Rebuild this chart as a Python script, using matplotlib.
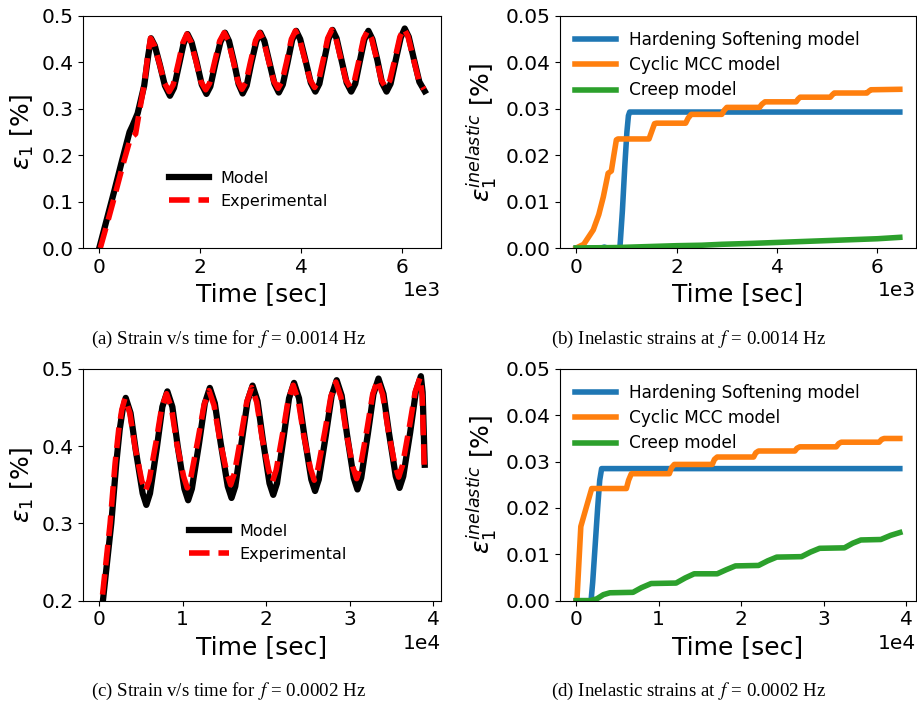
import matplotlib
matplotlib.use("Agg")
import matplotlib.pyplot as plt

# --- (a) strain vs time, f = 0.0014 Hz ---
t_a_model = [0, 150, 300, 450, 600, 660, 760, 890, 970, 1025, 1100, 1200, 1300, 1400,
             1480, 1580, 1670, 1748, 1830, 1930, 2030, 2123, 2200, 2300, 2400, 2490,
             2570, 2670, 2760, 2840, 2920, 3010, 3110, 3190, 3270, 3370, 3470, 3556,
             3635, 3730, 3820, 3900, 3980, 4090, 4190, 4280, 4360, 4450, 4540, 4620,
             4700, 4800, 4900, 4990, 5070, 5160, 5250, 5330, 5410, 5510, 5600, 5690,
             5770, 5870, 5970, 6050, 6130, 6230, 6340, 6446]
e_a_model = [0.000, 0.062, 0.124, 0.188, 0.250, 0.264, 0.290, 0.350, 0.415, 0.452, 0.436, 0.395, 0.350, 0.328,
             0.345, 0.395, 0.440, 0.461, 0.443, 0.400, 0.352, 0.332, 0.348, 0.398, 0.444, 0.464,
             0.446, 0.400, 0.353, 0.333, 0.350, 0.398, 0.445, 0.464, 0.446, 0.400, 0.354, 0.335,
             0.352, 0.400, 0.448, 0.468, 0.450, 0.402, 0.356, 0.337, 0.354, 0.402, 0.450, 0.470,
             0.452, 0.404, 0.356, 0.337, 0.354, 0.402, 0.449, 0.468, 0.450, 0.404, 0.356, 0.337,
             0.354, 0.404, 0.453, 0.473, 0.455, 0.408, 0.358, 0.338]

t_a_exp = [20, 170, 320, 470, 610, 660, 720, 780, 890, 965, 1015, 1090, 1190, 1290, 1385,
           1465, 1565, 1655, 1735, 1815, 1915, 2015, 2108, 2185, 2285, 2385, 2475,
           2555, 2655, 2745, 2825, 2905, 2995, 3095, 3175, 3255, 3355, 3455, 3541,
           3620, 3715, 3805, 3885, 3965, 4075, 4175, 4265, 4345, 4435, 4525, 4605,
           4685, 4785, 4885, 4975, 5055, 5145, 5235, 5315, 5395, 5495, 5585, 5675,
           5755, 5855, 5955, 6035, 6115, 6215, 6325, 6430]
e_a_exp = [0.000, 0.058, 0.118, 0.180, 0.234, 0.240, 0.246, 0.285, 0.352, 0.418, 0.452, 0.437, 0.398, 0.356, 0.337,
           0.352, 0.398, 0.442, 0.461, 0.444, 0.403, 0.358, 0.341, 0.355, 0.401, 0.446, 0.464,
           0.447, 0.403, 0.359, 0.342, 0.357, 0.401, 0.447, 0.464, 0.447, 0.403, 0.360, 0.344,
           0.359, 0.403, 0.450, 0.468, 0.451, 0.405, 0.362, 0.346, 0.361, 0.405, 0.452, 0.470,
           0.453, 0.407, 0.362, 0.346, 0.361, 0.405, 0.451, 0.468, 0.451, 0.407, 0.362, 0.346,
           0.361, 0.407, 0.455, 0.473, 0.456, 0.411, 0.363, 0.342]

# --- (b) inelastic strains, f = 0.0014 Hz ---
t_b_hs = [0, 500, 560, 620, 870, 920, 970, 1010, 1040, 1065, 6445]
e_b_hs = [0, 0, 0.0002, 0, 0, 0.008, 0.018, 0.025, 0.0285, 0.0293, 0.0293]

t_b_mcc = [0, 150, 340, 450, 540, 636, 700, 750, 800, 830, 1450, 1500, 1560, 1600,
           2180, 2230, 2290, 2900, 2950, 3000, 3650, 3700, 3760, 4380, 4420, 4460,
           5060, 5100, 5140, 5790, 5830, 5870, 6445]
e_b_mcc = [0, 0.0008, 0.0039, 0.0072, 0.0110, 0.0161, 0.0166, 0.0200, 0.0233, 0.0235, 0.0235, 0.0250, 0.0268, 0.0269,
           0.0269, 0.0280, 0.0288, 0.0288, 0.0297, 0.0303, 0.0303, 0.0310, 0.0315, 0.0315, 0.0321, 0.0325,
           0.0325, 0.0330, 0.0334, 0.0334, 0.0338, 0.0341, 0.0342]

t_b_creep = [0, 800, 1400, 2000, 2500, 2900, 3500, 4000, 4500, 5000, 5500, 6000, 6445]
e_b_creep = [0, 0.0001, 0.0003, 0.0005, 0.0006, 0.0008, 0.0010, 0.0012, 0.0014, 0.0016, 0.0018, 0.0020, 0.0023]

# --- (c) strain vs time, f = 0.0002 Hz ---
t_c_model = [0, 440, 1440, 2040, 2450, 2800, 3170, 3750, 4400, 5200, 5640, 6080, 6900, 7560,
             8160, 8760, 9400, 10200, 10650, 11100, 11950, 12650, 13250, 13850, 14550, 15400,
             15850, 16300, 17100, 17770, 18370, 18970, 19610, 20400, 20850, 21300, 22100,
             22740, 23340, 23940, 24600, 25410, 25860, 26310, 27150, 27850, 28450, 29050,
             29690, 30490, 30940, 31390, 32200, 32860, 33460, 34060, 34720, 35530, 35980,
             36430, 37260, 37940, 38540, 38750, 39000]
e_c_model = [0.156, 0.200, 0.300, 0.378, 0.4215, 0.447, 0.4626, 0.443, 0.393, 0.339, 0.324, 0.339, 0.398, 0.451,
             0.471, 0.451, 0.400, 0.345, 0.330, 0.345, 0.403, 0.4555, 0.4755, 0.4555, 0.404, 0.348,
             0.333, 0.348, 0.408, 0.4585, 0.4785, 0.4585, 0.408, 0.352, 0.337, 0.352, 0.412,
             0.462, 0.482, 0.462, 0.412, 0.357, 0.342, 0.357, 0.414, 0.4655, 0.4855, 0.4655,
             0.415, 0.359, 0.344, 0.359, 0.417, 0.4676, 0.4876, 0.4676, 0.417, 0.361, 0.346,
             0.361, 0.418, 0.4707, 0.4907, 0.470, 0.376]

t_c_exp = [0, 320, 1300, 1900, 2330, 2700, 3080, 3660, 4300, 5100, 5540, 5980, 6800, 7460,
           8060, 8660, 9300, 10100, 10550, 11000, 11850, 12550, 13150, 13750, 14450, 15300,
           15750, 16200, 17000, 17670, 18270, 18870, 19510, 20300, 20750, 21200, 22000,
           22640, 23240, 23840, 24500, 25310, 25760, 26210, 27050, 27750, 28350, 28950,
           29590, 30390, 30840, 31290, 32100, 32760, 33360, 33960, 34620, 35430, 35880,
           36330, 37160, 37850, 38450, 38700, 38950]
e_c_exp = [0.170, 0.200, 0.300, 0.378, 0.4215, 0.447, 0.462, 0.443, 0.398, 0.355, 0.342, 0.356, 0.405, 0.449,
           0.468, 0.449, 0.403, 0.361, 0.346, 0.361, 0.410, 0.453, 0.472, 0.453, 0.408, 0.365,
           0.350, 0.365, 0.414, 0.457, 0.476, 0.457, 0.411, 0.369, 0.354, 0.369, 0.418,
           0.460, 0.479, 0.460, 0.414, 0.371, 0.356, 0.371, 0.420, 0.464, 0.483, 0.464,
           0.418, 0.373, 0.358, 0.373, 0.423, 0.467, 0.486, 0.467, 0.421, 0.375, 0.360,
           0.375, 0.425, 0.470, 0.489, 0.465, 0.372]

# --- (d) inelastic strains, f = 0.0002 Hz ---
t_d_hs = [0, 1800, 2000, 2300, 2600, 2850, 3080, 39200]
e_d_hs = [0, 0, 0.004, 0.012, 0.020, 0.026, 0.0285, 0.0285]

t_d_mcc = [0, 100, 560, 1200, 1880, 6080, 6350, 6680, 11280, 11550, 11880, 16480, 16750, 17080,
           21490, 21750, 22090, 26490, 26750, 27090, 31500, 31800, 32100, 36700, 37000, 37300, 39200]
e_d_mcc = [0, 0.0005, 0.016, 0.020, 0.0242, 0.0242, 0.026, 0.0274, 0.0274, 0.0287, 0.0294, 0.0294, 0.0305, 0.0310,
           0.0310, 0.0319, 0.0323, 0.0323, 0.0329, 0.0332, 0.0332, 0.0339, 0.0342, 0.0342, 0.0348, 0.0350, 0.0350]

t_d_creep = [0, 1700, 2500, 3300, 4080, 6880, 7900, 9080, 12100, 13200, 14290, 17080, 18200, 19290,
             22090, 23200, 24290, 27290, 28400, 29490, 32490, 33500, 34490, 36900, 38100, 39200]
e_d_creep = [0, 0, 0.0004, 0.0013, 0.0017, 0.0018, 0.0028, 0.0037, 0.0038, 0.0049, 0.0058, 0.0058, 0.0067, 0.0075,
             0.0076, 0.0086, 0.0094, 0.0095, 0.0105, 0.0113, 0.0114, 0.0124, 0.0131, 0.0132, 0.0141, 0.0147]

captions = [r"(a) Strain v/s time for $\,f$ = 0.0014 Hz",
            r"(b) Inelastic strains at $\,f$ = 0.0014 Hz",
            r"(c) Strain v/s time for $\,f$ = 0.0002 Hz",
            r"(d) Inelastic strains at $\,f$ = 0.0002 Hz"]

plt.rcParams['xtick.labelsize'] = 14.5
plt.rcParams['ytick.labelsize'] = 14.5

fig = plt.figure(figsize=(9.17, 7.07), dpi=100)
ax_a = fig.add_axes([0.0905, 0.6492, 0.3904, 0.3282])
ax_b = fig.add_axes([0.6107, 0.6492, 0.3882, 0.3282])
ax_c = fig.add_axes([0.0905, 0.1504, 0.3904, 0.3277])
ax_d = fig.add_axes([0.6107, 0.1504, 0.3882, 0.3277])


def strain_panel(ax, t_mod, e_mod, t_exp, e_exp, ylim, yticks, xticks, anchor):
    ax.plot(t_mod, e_mod, color='black', lw=4.5, label='Model')
    ax.plot(t_exp, e_exp, color='red', lw=4, ls='--', label='Experimental')
    ax.set_ylim(*ylim)
    ax.set_yticks(yticks)
    ax.set_xticks(xticks)
    ax.ticklabel_format(axis='x', style='sci', scilimits=(0, 0))
    ax.set_xlabel('Time [sec]', fontsize=18)
    ax.set_ylabel(r'$\varepsilon_1$ [%]', fontsize=18)
    ax.legend(loc='center left', bbox_to_anchor=anchor, frameon=False,
              fontsize=11.5, handlelength=2.5, handletextpad=0.7)


def inelastic_panel(ax, t_hs, e_hs, t_mcc, e_mcc, t_cr, e_cr, xticks):
    ax.plot(t_hs, e_hs, color='#1f77b4', lw=4, label='Hardening Softening model')
    ax.plot(t_mcc, e_mcc, color='#ff7f0e', lw=4, label='Cyclic MCC model')
    ax.plot(t_cr, e_cr, color='#2ca02c', lw=4, label='Creep model')
    ax.set_ylim(0, 0.05)
    ax.set_yticks([0, 0.01, 0.02, 0.03, 0.04, 0.05])
    ax.set_xticks(xticks)
    ax.ticklabel_format(axis='x', style='sci', scilimits=(0, 0))
    ax.set_xlabel('Time [sec]', fontsize=18)
    ax.set_ylabel(r'$\varepsilon_1^{inelastic}$ [%]', fontsize=18)
    ax.legend(loc='upper left', frameon=False, fontsize=12.2,
              handlelength=2.4, handletextpad=0.75, labelspacing=0.42)


strain_panel(ax_a, t_a_model, e_a_model, t_a_exp, e_a_exp, (0, 0.5),
             [0, 0.1, 0.2, 0.3, 0.4, 0.5], [0, 2000, 4000, 6000], (0.2, 0.25))
inelastic_panel(ax_b, t_b_hs, e_b_hs, t_b_mcc, e_b_mcc, t_b_creep, e_b_creep,
                [0, 2000, 4000, 6000])
strain_panel(ax_c, t_c_model, e_c_model, t_c_exp, e_c_exp, (0.2, 0.5),
             [0.2, 0.3, 0.4, 0.5], [0, 10000, 20000, 30000, 40000], (0.255, 0.25))
inelastic_panel(ax_d, t_d_hs, e_d_hs, t_d_mcc, e_d_mcc, t_d_creep, e_d_creep,
                [0, 10000, 20000, 30000, 40000])

# captions under each panel
cap_pos = [(0.2486, 0.5205), (0.7514, 0.5205), (0.2486, 0.0216), (0.7514, 0.0216)]
for (x, y), txt in zip(cap_pos, captions):
    fig.text(x, y, txt, ha='center', va='center', fontsize=13.6,
             family='Liberation Serif', math_fontfamily='stix')

fig.savefig('out.png', dpi=100)
